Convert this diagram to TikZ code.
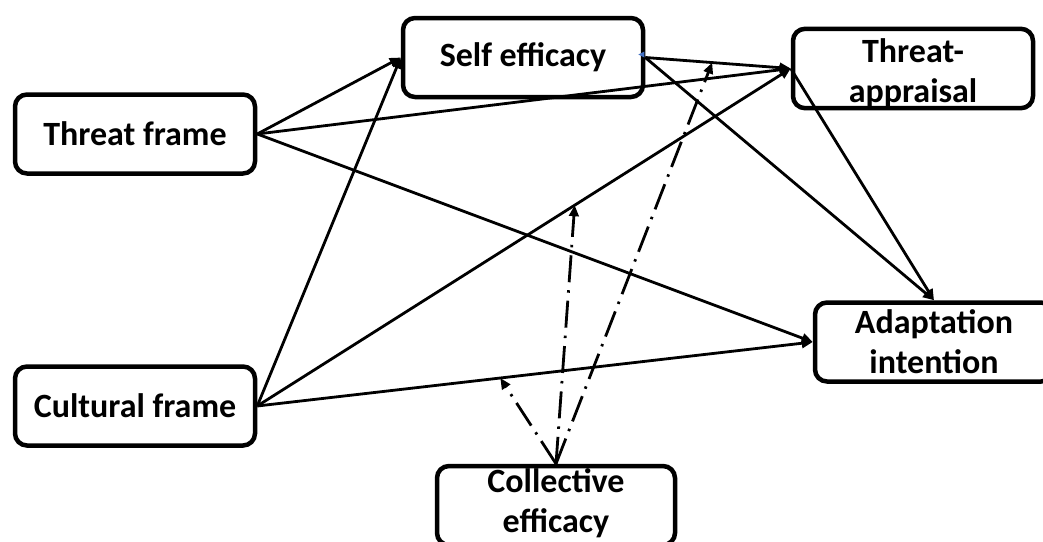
\documentclass[tikz,border=0pt]{standalone}
\usepackage{fontspec}
\setmainfont{Carlito}
\usetikzlibrary{arrows.meta,calc}
\definecolor{tipblue}{RGB}{68,114,196}
\begin{document}
\begin{tikzpicture}[x=1pt,y=-1pt,
  box/.style={draw,line width=4.5pt,rounded corners=12pt,minimum width=240pt,minimum height=79pt,inner sep=0pt,align=center,font=\fontsize{34}{40}\selectfont\bfseries},
  link/.style={line width=2.8pt,-{Triangle[length=11pt,width=9.5pt]}},
  modlink/.style={link,dash pattern=on 27pt off 8pt on 2.5pt off 8pt}]
\useasboundingbox (0,0) rectangle (1043,541);
\clip (0,0) rectangle (1043,541);
\fill[white] (0,0) rectangle (1043,541);
\node[box] (TF) at (135,134) {Threat frame};
\node[box] (CF) at (135,406) {Cultural frame};
\node[box] (SE) at (523,57.5) {Self efficacy};
\node[box,text height=74pt] (TA) at (913,68.5) {Threat-\\appraisal};
\node[box,minimum width=238pt] (AI) at (934,342) {Adaptation\\intention};
\node[box,minimum width=238pt,text height=60pt] (CE) at (556,505.5) {Collective\\efficacy};
% direct paths
\draw[link] (TF.east) -- (SE.west);
\draw[link] (TF.east) -- (TA.west);
\draw[link] (TF.east) -- (AI.west);
\draw[link] (CF.east) -- (SE.west);
\draw[link] (CF.east) -- (TA.west);
\draw[link] (CF.east) -- (AI.west);
\draw[link] (SE.east) -- (TA.west);
\draw[link] (SE.east) -- (AI.north);
\draw[link] (TA.west) -- (AI.north);
% moderation points
\coordinate (m1) at ($(CF.east)!0.4375!(AI.west)$);
\coordinate (m2) at ($(CF.east)!0.595!(TA.west)$);
\coordinate (m3) at ($(SE.east)!0.46!(TA.west)$);
\draw[modlink] (CE.north) -- (m1);
\draw[modlink] (CE.north) -- (m2);
\draw[modlink] (CE.north) -- (m3);
% small blue marker
\fill[tipblue] ($(SE.east)+(-7,-3)$) -- ++(6,-3) -- ++(0,6) -- cycle;
\end{tikzpicture}
\end{document}
